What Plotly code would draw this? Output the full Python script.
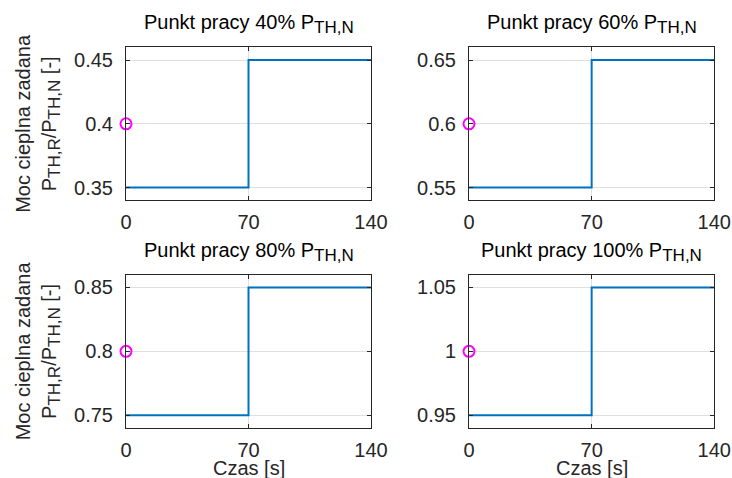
import plotly.graph_objects as go

# Data
percent_labels = ["40%", "60%", "80%", "100%"]
setpoints = [0.4, 0.6, 0.8, 1.0]
low_values = [0.35, 0.55, 0.75, 0.95]
high_values = [0.45, 0.65, 0.85, 1.05]
step_time = [0, 70, 140]
y_ranges = [[0.34, 0.46], [0.54, 0.66], [0.74, 0.86], [0.94, 1.06]]
y_tickvals = [[0.35, 0.4, 0.45], [0.55, 0.6, 0.65], [0.75, 0.8, 0.85], [0.95, 1.0, 1.05]]
y_ticktext = [["0.35", "0.4", "0.45"], ["0.55", "0.6", "0.65"], ["0.75", "0.8", "0.85"], ["0.95", "1", "1.05"]]
x_tickvals = [0, 70, 140]

W, H = 732, 478
FONT = "Liberation Sans, Arial, sans-serif"
TXT = "#262626"
BLUE = "#0072BD"
FS = 20


def sub(s):
    return f'<sub><span style="font-size:17px">{s}</span></sub>'


# pixel boxes of axes (left, right, top, bottom)
cols = [(126, 371), (469, 714.3)]
rows = [(47.3, 200.3), (274.7, 428)]

fig = go.Figure()
layout = dict(
    width=W, height=H, autosize=False, margin=dict(l=0, r=0, t=0, b=0, autoexpand=False),
    paper_bgcolor="white", plot_bgcolor="white", showlegend=False,
    font=dict(family=FONT, color=TXT, size=FS),
)
annotations = []
for i in range(4):
    r, c = divmod(i, 2)
    n = i + 1
    xa = "x" if n == 1 else f"x{n}"
    ya = "y" if n == 1 else f"y{n}"
    xl, xr = cols[c]
    yt, yb = rows[r]
    step_values = [low_values[i], high_values[i], high_values[i]]
    fig.add_trace(go.Scatter(x=step_time, y=step_values, mode="lines", line_shape="hv",
                             line=dict(color=BLUE, width=2), xaxis=xa, yaxis=ya))
    fig.add_trace(go.Scatter(x=[step_time[0]], y=[setpoints[i]], mode="markers",
                             marker=dict(symbol="circle-open", size=11, color="#FF00FF", line=dict(width=2)),
                             cliponaxis=False, xaxis=xa, yaxis=ya))
    axcommon = dict(showline=True, linecolor=TXT, linewidth=1, mirror="ticks",
                    ticks="inside", ticklen=4, tickcolor=TXT, showgrid=True,
                    gridcolor="#dfdfdf", gridwidth=1, zeroline=False, automargin=False,
                    tickfont=dict(family=FONT, size=FS, color=TXT))
    layout["xaxis" if n == 1 else f"xaxis{n}"] = dict(
        axcommon, domain=[xl / W, xr / W], range=[0, 140], tickvals=x_tickvals,
        anchor=ya, ticklabelstandoff=4)
    layout["yaxis" if n == 1 else f"yaxis{n}"] = dict(
        axcommon, domain=[1 - yb / H, 1 - yt / H], range=y_ranges[i],
        tickvals=y_tickvals[i], ticktext=y_ticktext[i], anchor=xa, ticklabelstandoff=8)
    annotations.append(dict(
        text=f"Punkt pracy {percent_labels[i]} P{sub('TH,N')}", xref="paper", yref="paper",
        x=(xl + xr) / 2 / W, y=1 - (yt - 8) / H, xanchor="center", yanchor="bottom",
        showarrow=False, font=dict(family=FONT, size=FS, color="black")))
    if c == 0:
        annotations.append(dict(
            text=f"Moc cieplna zadana<br>P{sub('TH,R')}/P{sub('TH,N')} [-]",
            xref="paper", yref="paper", x=38 / W, y=1 - (yt + yb) / 2 / H,
            xanchor="center", yanchor="middle", textangle=-90, showarrow=False,
            font=dict(family=FONT, size=FS, color=TXT)))
    if r == 1:
        annotations.append(dict(
            text="Czas [s]", xref="paper", yref="paper", x=(xl + xr) / 2 / W, y=1 - 468 / H,
            xanchor="center", yanchor="middle", showarrow=False,
            font=dict(family=FONT, size=FS, color=TXT)))
layout["annotations"] = annotations
fig.update_layout(**layout)
fig.write_html("out.html",
               config={"responsive": False, "displayModeBar": False},
               post_script="document.body.style.margin='0';document.body.style.overflow='hidden';")
